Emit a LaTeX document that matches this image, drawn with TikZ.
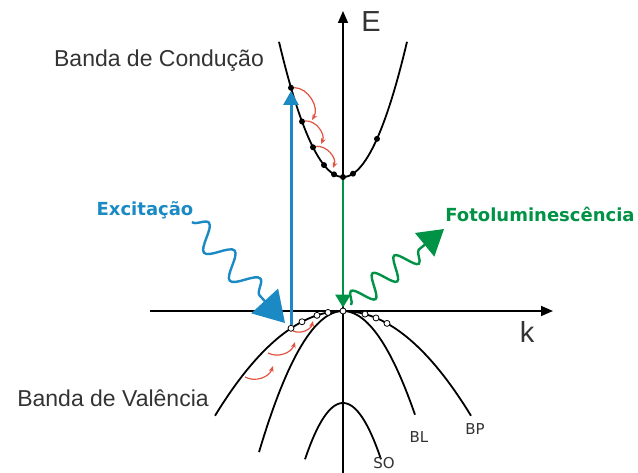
\documentclass[tikz,border=0pt]{standalone}
\usepackage{fontspec}
\setmainfont{Liberation Sans}
\newfontfamily\dejavu{DejaVu Sans}
\usepackage{tikz}
\usetikzlibrary{positioning,arrows.meta,decorations.pathmorphing}
\definecolor{exblue}{RGB}{27,138,196}
\definecolor{plgreen}{RGB}{0,146,69}
\definecolor{relaxred}{RGB}{226,83,64}
\definecolor{txtgray}{RGB}{51,51,51}

\begin{document}
\begin{tikzpicture}[x=1pt, y=-1pt,
    band/.style={line width=1.8pt},
    axis/.style={line width=1.6pt, -{Triangle[length=12pt,width=10pt]}},
    elec/.style={circle, fill=black, inner sep=0pt, minimum size=6pt},
    hole/.style={circle, draw=black, fill=white, line width=0.8pt, inner sep=0pt, minimum size=6pt},
    relax/.style={relaxred, line width=1.2pt, -{Stealth[length=6pt,width=5pt]}},
    photon/.style={line width=2.4pt, decorate, decoration={snake, amplitude=12pt, segment length=38pt, post length=34pt}},
    lbl/.style={text=txtgray, font=\fontsize{23}{26}\selectfont},
    biglbl/.style={text=txtgray, font=\fontsize{29}{32}\selectfont},
    small/.style={text=txtgray, font=\dejavu\fontsize{15}{17}\selectfont},
    colored/.style={font=\dejavu\bfseries\fontsize{18}{21}\selectfont}]

    \useasboundingbox (0,0) rectangle (638,473);

    % axes
    \coordinate (kstart) at (150,311);
    \coordinate (kend) at (553,311);
    \coordinate (Ebot) at (343,473);
    \coordinate (Etop) at (343,11);
    \draw[axis] (kstart) -- (kend);
    \draw[axis] (Ebot) -- (Etop);
    \node[biglbl] (E) at (371,22) {E};
    \node[biglbl] (k) at (527,332) {k};

    % bands
    \draw[band] plot[domain=-64:64, samples=60] ({343+\x},{177-0.033*(\x)*(\x)});
    \draw[band] plot[domain=-128:128, samples=80] ({343+\x},{311+0.0064*(\x)*(\x)});
    \draw[band] plot[domain=-84:72, samples=60] ({343+\x},{311+0.02*(\x)*(\x)});
    \draw[band] plot[domain=-38:38, samples=40] ({343+\x},{403+0.039*(\x)*(\x)});

    % electrons and holes
    \foreach \d [count=\i] in {-52,-41,-30,-19,-9,0,10,34}
        \node[elec] (c\i) at ({343+\d},{177-0.033*(\d)*(\d)}) {};
    \foreach \d [count=\i] in {-52,-41,-26,-15,0,22,33,44}
        \node[hole] (v\i) at ({343+\d},{311+0.0064*(\d)*(\d)}) {};

    % relaxation
    \coordinate (r1) at (312,120);
    \coordinate (r2) at (321,144);
    \coordinate (r3) at (333,168);
    \draw[relax] (c1) to[bend left=60] (r1);
    \draw[relax] (c2) to[bend left=60] (r2);
    \draw[relax] (c3) to[bend left=60] (r3);

    \coordinate (s1) at (245,377);
    \coordinate (e1) at (273,366);
    \coordinate (s2) at (268,353);
    \coordinate (e2) at (295,342);
    \coordinate (s3) at (293,331);
    \coordinate (e3) at (313,321);
    \draw[relax] (s1) to[bend right=50] (e1);
    \draw[relax] (s2) to[bend right=50] (e2);
    \draw[relax] (s3) to[bend right=50] (e3);

    % transitions
    \draw[exblue, line width=3pt, -{Triangle[length=14pt,width=15pt]}] (v1) -- (c1.south);
    \draw[plgreen, line width=2.6pt, -{Triangle[length=13pt,width=15pt]}] (c6) -- (v5.north);

    % photons
    \coordinate (ws) at (192,222);
    \coordinate (wt) at (285,323);
    \draw[exblue, photon, -{Triangle[length=30pt,width=36pt]}] (ws) -- (wt);
    \coordinate (gs) at (351,305);
    \coordinate (gt) at (444,229);
    \draw[plgreen, photon, decoration={amplitude=11pt, segment length=28pt, post length=27pt}, -{Triangle[length=25pt,width=30pt]}] (gs) -- (gt);

    % labels
    \node[lbl] (cb) at (159,61) {Banda de Condução};
    \node[lbl] (vb) at (113,398) {Banda de Valência};
    \node[colored, text=exblue] (exc) at (145,210) {Excitação};
    \node[colored, text=plgreen] (pl) at (540,214) {Fotoluminescência};
    \node[small] (bl) at (419,437) {BL};
    \node[small] (bp) at (475,429) {BP};
    \node[small] (so) at (384,463) {SO};

\end{tikzpicture}
\end{document}
